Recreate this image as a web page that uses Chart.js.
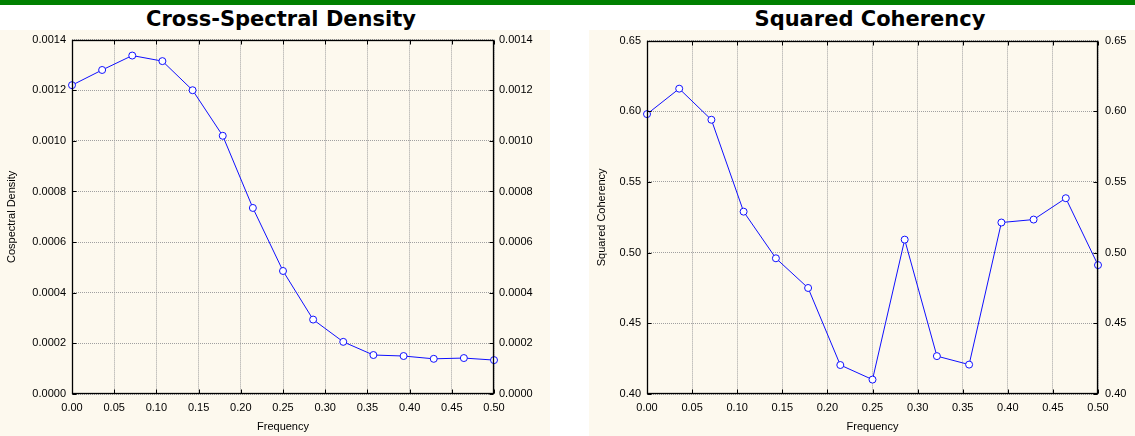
<!DOCTYPE html>
<html>
<head>
<meta charset="utf-8">
<script src="https://cdn.jsdelivr.net/npm/chart.js@4.4.0/dist/chart.umd.min.js"></script>
<style>
  html, body { margin: 0; padding: 0; background: #fff; }
  body { width: 1135px; height: 436px; position: relative; overflow: hidden; }
  .topline { position: absolute; left: 0; top: 0; width: 1135px; height: 5px; background: #008000; }
  .title { position: absolute; top: 9px; font: bold 21px "DejaVu Sans", Verdana, sans-serif; line-height: 21px; text-align: center; color: #000; white-space: nowrap; }
  .panel { position: absolute; top: 30px; height: 406px; background: #fdf9ee; }
  .panel canvas { display: block; position: absolute; left: 0; top: -3px; }
</style>
</head>
<body>
<div class="topline"></div>
<div class="title" style="left:81px;width:400px;">Cross-Spectral Density</div>
<div class="title" style="left:670px;width:400px;">Squared Coherency</div>
<div class="panel" style="left:0;width:550px;"><canvas id="csdChart" width="550" height="409"></canvas></div>
<div class="panel" style="left:589px;width:546px;"><canvas id="cohChart" width="546" height="409"></canvas></div>
<script>
const frequencies = [0, 0.0357, 0.0714, 0.1071, 0.1429, 0.1786, 0.2143, 0.25, 0.2857, 0.3214, 0.3571, 0.3929, 0.4286, 0.4643, 0.5];
const cospectralDensity = [0.00122, 0.00128, 0.001337, 0.001315, 0.0012, 0.00102, 0.000735, 0.000486, 0.000294, 0.000206, 0.000154, 0.00015, 0.000139, 0.000142, 0.000134];
const squaredCoherency = [0.598, 0.616, 0.594, 0.529, 0.496, 0.475, 0.4205, 0.4102, 0.5092, 0.4268, 0.4208, 0.5213, 0.5234, 0.5385, 0.4912];

const freqTicks = { min: 0, max: 0.5, step: 0.05 };
const csdTicks = { min: 0, max: 0.0014, step: 0.0002 };
const cohTicks = { min: 0.4, max: 0.65, step: 0.05 };

const tickFont = { family: "Arial, 'Liberation Sans', sans-serif", size: 11 };

// frame and inward tick marks, drawn on top like the original
const framePlugin = {
  id: "frame",
  afterDraw(chart) {
    const ctx = chart.ctx;
    const a = chart.chartArea;
    const l = Math.round(a.left) + 0.5, r = Math.round(a.right) - 0.5;
    const t = Math.round(a.top) + 0.5, b = Math.round(a.bottom) - 0.5;
    ctx.save();
    ctx.strokeStyle = "#000";
    ctx.lineWidth = 1;
    ctx.beginPath();
    chart.scales.x.ticks.forEach(tk => {
      const px = Math.round(chart.scales.x.getPixelForValue(tk.value)) + 0.5;
      ctx.moveTo(px, b); ctx.lineTo(px, b - 4);
      ctx.moveTo(px, t); ctx.lineTo(px, t + 4);
    });
    chart.scales.y.ticks.forEach(tk => {
      const py = Math.round(chart.scales.y.getPixelForValue(tk.value)) + 0.5;
      ctx.moveTo(l, py); ctx.lineTo(l + 4, py);
      ctx.moveTo(r, py); ctx.lineTo(r - 4, py);
    });
    ctx.stroke();
    ctx.lineWidth = 1.3;
    ctx.strokeRect(l, t, r - l, b - t);
    ctx.restore();
  }
};

function makeConfig(values, yr, yDigits, yTitle, sizes) {
  const yCommon = {
    type: "linear",
    min: yr.min,
    max: yr.max,
    border: { display: false, dash: [1, 1] },
    ticks: {
      stepSize: yr.step,
      font: tickFont,
      color: "#000",
      callback: v => v.toFixed(yDigits)
    }
  };
  return {
    type: "line",
    data: {
      datasets: [{
        data: frequencies.map((f, i) => ({ x: f, y: values[i] })),
        borderColor: "#0f0fff",
        borderWidth: 1,
        pointRadius: 3.5,
        pointBackgroundColor: "#fff",
        pointBorderColor: "#0f0fff",
        pointBorderWidth: 1,
        tension: 0,
        clip: false
      }]
    },
    options: {
      responsive: false,
      animation: false,
      events: [],
      layout: { padding: { top: 8, left: 0, right: 0, bottom: 0 } },
      plugins: { legend: { display: false }, tooltip: { enabled: false } },
      scales: {
        x: {
          type: "linear",
          min: freqTicks.min,
          max: freqTicks.max,
          border: { display: false, dash: [1, 1] },
          grid: { color: "#a0a0a0", drawTicks: false },
          ticks: { stepSize: freqTicks.step, font: tickFont, color: "#000", padding: 7, maxRotation: 0,
                   callback: v => v.toFixed(2) },
          title: { display: true, text: "Frequency", font: tickFont, color: "#000", padding: { top: 0, bottom: 2 } },
          afterFit: s => { s.height = 42; }
        },
        y: Object.assign({}, yCommon, {
          position: "left",
          grid: { color: "#a0a0a0", drawTicks: false },
          ticks: Object.assign({}, yCommon.ticks, { padding: 6 }),
          title: { display: true, text: yTitle, font: tickFont, color: "#000", padding: { top: sizes.titlePad, bottom: 0 } },
          afterFit: s => { s.width = sizes.left; }
        }),
        y2: Object.assign({}, yCommon, {
          position: "right",
          grid: { drawOnChartArea: false, drawTicks: false },
          ticks: Object.assign({}, yCommon.ticks, { padding: sizes.rightPad }),
          afterFit: s => { s.width = sizes.right; }
        })
      }
    },
    plugins: [framePlugin]
  };
}

new Chart(document.getElementById("csdChart"),
  makeConfig(cospectralDensity, csdTicks, 4, "Cospectral Density", { left: 72, right: 56, rightPad: 5, titlePad: 5 }));
new Chart(document.getElementById("cohChart"),
  makeConfig(squaredCoherency, cohTicks, 2, "Squared Coherency", { left: 58, right: 37, rightPad: 7, titlePad: 6 }));
</script>
</body>
</html>
